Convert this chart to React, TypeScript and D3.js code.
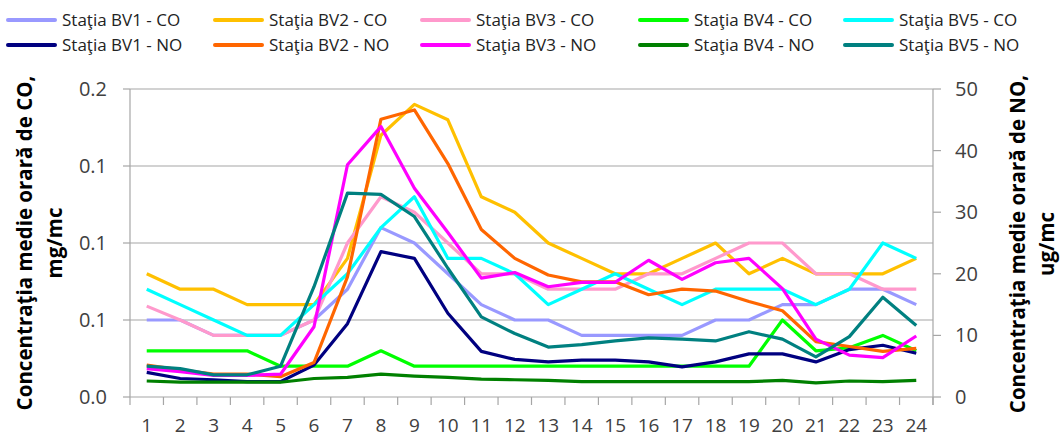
import React from "react";
import * as d3 from "d3";

const hours = d3.range(1, 25).map(String);
const coBV1 = [0.05,0.05,0.04,0.04,0.04,0.05,0.07,0.11,0.1,0.08,0.06,0.05,0.05,0.04,0.04,0.04,0.04,0.05,0.05,0.06,0.06,0.07,0.07,0.06];
const coBV2 = [0.08,0.07,0.07,0.06,0.06,0.06,0.09,0.17,0.19,0.18,0.13,0.12,0.1,0.09,0.08,0.08,0.09,0.1,0.08,0.09,0.08,0.08,0.08,0.09];
const coBV3 = [0.059,0.05,0.04,0.04,0.04,0.05,0.1,0.13,0.12,0.1,0.08,0.08,0.07,0.07,0.07,0.08,0.08,0.09,0.1,0.1,0.08,0.08,0.07,0.07];
const coBV4 = [0.03,0.03,0.03,0.03,0.02,0.02,0.02,0.03,0.02,0.02,0.02,0.02,0.02,0.02,0.02,0.02,0.02,0.02,0.02,0.05,0.03,0.032,0.04,0.03];
const coBV5 = [0.07,0.06,0.05,0.04,0.04,0.06,0.08,0.11,0.13,0.09,0.09,0.08,0.06,0.07,0.08,0.07,0.06,0.07,0.07,0.07,0.06,0.07,0.1,0.09];
const noBV1 = [4.0,3.0,2.8,2.5,2.5,5.2,11.9,23.6,22.5,13.6,7.4,6.1,5.7,6.0,6.0,5.7,4.9,5.7,7.0,7.0,5.7,7.7,8.4,7.1];
const noBV2 = [5.2,4.4,3.7,3.7,3.3,5.6,19.5,45.1,46.6,37.9,27.2,22.5,19.8,18.7,18.7,16.6,17.5,17.2,15.5,14.0,9.0,8.2,7.4,7.9];
const noBV3 = [4.6,4.1,3.5,3.5,3.7,11.4,37.7,43.9,33.9,26.7,19.3,20.2,17.9,18.6,18.6,22.2,19.1,21.8,22.5,17.6,9.4,6.8,6.4,9.9];
const noBV4 = [2.6,2.4,2.4,2.4,2.4,3.0,3.2,3.7,3.4,3.2,2.9,2.8,2.7,2.5,2.5,2.5,2.5,2.5,2.5,2.7,2.3,2.6,2.5,2.7];
const noBV5 = [5.0,4.6,3.6,3.6,5.0,17.9,33.1,32.9,29.3,20.9,13.0,10.3,8.1,8.5,9.1,9.6,9.4,9.1,10.6,9.4,6.5,9.8,16.2,11.6];
const coTicks = [0, 0.05, 0.1, 0.15, 0.2];
const noTicks = [0, 10, 20, 30, 40, 50];

const seriesCO = [
  { name: "Staţia BV1 - CO", color: "#9999FF", values: coBV1 },
  { name: "Staţia BV2 - CO", color: "#FFC000", values: coBV2 },
  { name: "Staţia BV3 - CO", color: "#FF99CC", values: coBV3 },
  { name: "Staţia BV4 - CO", color: "#00FF00", values: coBV4 },
  { name: "Staţia BV5 - CO", color: "#00FFFF", values: coBV5 },
];
const seriesNO = [
  { name: "Staţia BV1 - NO", color: "#000080", values: noBV1 },
  { name: "Staţia BV2 - NO", color: "#FF6600", values: noBV2 },
  { name: "Staţia BV3 - NO", color: "#FF00FF", values: noBV3 },
  { name: "Staţia BV4 - NO", color: "#008000", values: noBV4 },
  { name: "Staţia BV5 - NO", color: "#008080", values: noBV5 },
];

const W = 1063, H = 437;
const L = 130, R = 933, T = 89, B = 397;
const FONT = "'Open Sans', sans-serif";

export default function App() {
  const x = d3.scaleBand().domain(hours).range([L, R]);
  const yCO = d3.scaleLinear().domain([0, 0.2]).range([B, T]);
  const yNO = d3.scaleLinear().domain([0, 50]).range([B, T]);
  const lineCO = d3.line<number>().x((_, i) => x(hours[i])! + x.bandwidth() / 2).y((d) => yCO(d));
  const lineNO = d3.line<number>().x((_, i) => x(hours[i])! + x.bandwidth() / 2).y((d) => yNO(d));
  const legendX = [8, 215, 422, 640, 845];
  const legendY = [20, 45];
  const bounds = d3.range(0, 25).map((i) => L + i * x.step());

  return (
    <svg width={W} height={H} style={{ position: "absolute", left: 0, top: 0, fontFamily: FONT }}>
      <rect width={W} height={H} fill="#fff" />
      {coTicks.slice(1).map((t) => (
        <line key={t} x1={L} x2={R} y1={yCO(t)} y2={yCO(t)} stroke="#A6A6A6" strokeWidth={1.2} />
      ))}
      <line x1={L} x2={L} y1={T} y2={B} stroke="#A6A6A6" strokeWidth={1.2} />
      <line x1={R} x2={R} y1={T} y2={B + 8} stroke="#A6A6A6" strokeWidth={1.2} />
      <line x1={L} x2={R} y1={B} y2={B} stroke="#A6A6A6" strokeWidth={1.2} />
      {coTicks.map((t) => (
        <g key={"l" + t}>
          <line x1={L - 7} x2={L} y1={yCO(t)} y2={yCO(t)} stroke="#A6A6A6" strokeWidth={1.2} />
          <text x={107} y={yCO(t)} dy="0.35em" textAnchor="end" fontSize={20} fill="#404040">
            {d3.format(".1f")(t)}
          </text>
        </g>
      ))}
      {noTicks.map((t) => (
        <g key={"r" + t}>
          <line x1={R} x2={R + 8} y1={yNO(t)} y2={yNO(t)} stroke="#A6A6A6" strokeWidth={1.2} />
          <text x={955} y={yNO(t)} dy="0.35em" textAnchor="start" fontSize={20} fill="#404040">
            {t}
          </text>
        </g>
      ))}
      {bounds.map((b, i) => (
        <line key={"b" + i} x1={b} x2={b} y1={B} y2={B + 8} stroke="#A6A6A6" strokeWidth={1.2} />
      ))}
      {hours.map((h) => (
        <text key={"h" + h} x={x(h)! + x.bandwidth() / 2} y={432} textAnchor="middle" fontSize={19} fill="#404040">
          {h}
        </text>
      ))}
      {seriesCO.map((s) => (
        <path key={s.name} d={lineCO(s.values)!} fill="none" stroke={s.color} strokeWidth={3.2} strokeLinejoin="round" />
      ))}
      {seriesNO.map((s) => (
        <path key={s.name} d={lineNO(s.values)!} fill="none" stroke={s.color} strokeWidth={3.2} strokeLinejoin="round" />
      ))}
      {[seriesCO, seriesNO].map((row, ri) =>
        row.map((s, ci) => (
          <g key={s.name} transform={`translate(${legendX[ci]},${legendY[ri]})`}>
            <line x1={0} x2={47} y1={0} y2={0} stroke={s.color} strokeWidth={4} strokeLinecap="round" />
            <text x={54} y={0} dy="0.35em" fontSize={17} fill="#222">
              {s.name}
            </text>
          </g>
        ))
      )}
      <text transform={`translate(32,243) rotate(-90)`} textAnchor="middle" fontSize={20.5} fontWeight="bold" fill="#000">
        Concentraţia medie orară de CO,
      </text>
      <text transform={`translate(62,243) rotate(-90)`} textAnchor="middle" fontSize={20.5} fontWeight="bold" fill="#000">
        mg/mc
      </text>
      <text transform={`translate(1025,244) rotate(-90)`} textAnchor="middle" fontSize={20.5} fontWeight="bold" fill="#000">
        Concentraţia medie orară de NO,
      </text>
      <text transform={`translate(1054,244) rotate(-90)`} textAnchor="middle" fontSize={20.5} fontWeight="bold" fill="#000">
        ug/mc
      </text>
    </svg>
  );
}
